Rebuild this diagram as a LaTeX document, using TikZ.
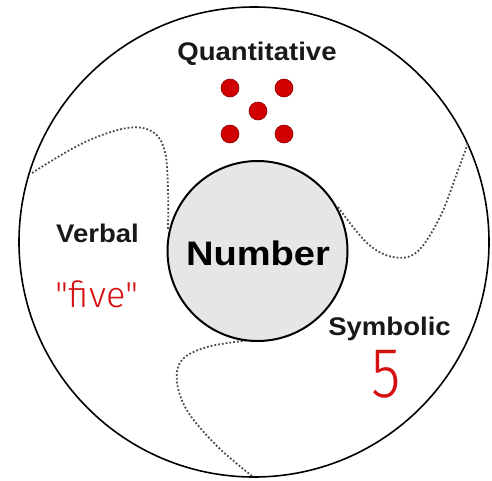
\documentclass[tikz,border=0pt]{standalone}
\usepackage{fontspec}
\usepackage{graphicx}
\setmainfont{Liberation Sans}
\newfontfamily\lightfont{Fira Sans Light}
\definecolor{dotred}{HTML}{D00000}
\definecolor{dotedge}{HTML}{8A0000}
\definecolor{numfill}{HTML}{E6E6E6}
\definecolor{txtred}{HTML}{D41010}
\tikzset{
  lbl/.style={anchor=base, font=\bfseries\fontsize{25.5}{28}\selectfont, text=black!90},
  reddot/.style={circle, fill=dotred, draw=dotedge, line width=0.6pt, minimum size=18pt, inner sep=0pt},
  border/.style={dotted, line width=1.8pt, draw=black!70},
  redtxt/.style={anchor=base, text=txtred},
}
\begin{document}
\begin{tikzpicture}[x=1pt, y=-1pt]
\useasboundingbox (0,0) rectangle (492,480);
\node[circle, draw, line width=1.6pt, minimum size=470pt, inner sep=0pt] (outer) at (254,242) {};
% dotted boundaries
\draw[border] plot[smooth, tension=0.6] coordinates {(32,173) (83,143) (127,128) (153,132) (165,152) (168,190) (168,230)};
\draw[border] plot[smooth, tension=0.6] coordinates {(338,207) (367,243) (393,257) (417,252) (440,217) (457,173) (468,143)};
\draw[border] plot[smooth, tension=0.6] coordinates {(250,340) (207,347) (182,360) (177,382) (188,412) (218,447) (252,476)};
\node[circle, draw, line width=2pt, fill=numfill, minimum size=180pt, inner sep=0pt] (num) at (257.5,251) {};
\node[anchor=base, font=\bfseries\fontsize{34}{38}\selectfont] (numtext) at (258,265) {\scalebox{1.12}[1]{Number}};
\node[lbl] (quant) at (257,60) {\scalebox{1.08}[1]{Quantitative}};
\node[lbl] (verbal) at (97.5,242) {\scalebox{1.08}[1]{Verbal}};
\node[lbl] (symb) at (389.5,335) {\scalebox{1.08}[1]{Symbolic}};
\node[redtxt, font=\lightfont\fontsize{36}{40}\selectfont] (five) at (97,307) {"five"};
\node[redtxt, font=\lightfont\fontsize{71}{75}\selectfont] (sym5) at (386,397) {\scalebox{0.85}[1]{5}};
\node[reddot] (d1) at (230,88) {};
\node[reddot] (d2) at (284,88) {};
\node[reddot] (d3) at (258,111) {};
\node[reddot] (d4) at (230,134) {};
\node[reddot] (d5) at (284,134) {};
\end{tikzpicture}
\end{document}
